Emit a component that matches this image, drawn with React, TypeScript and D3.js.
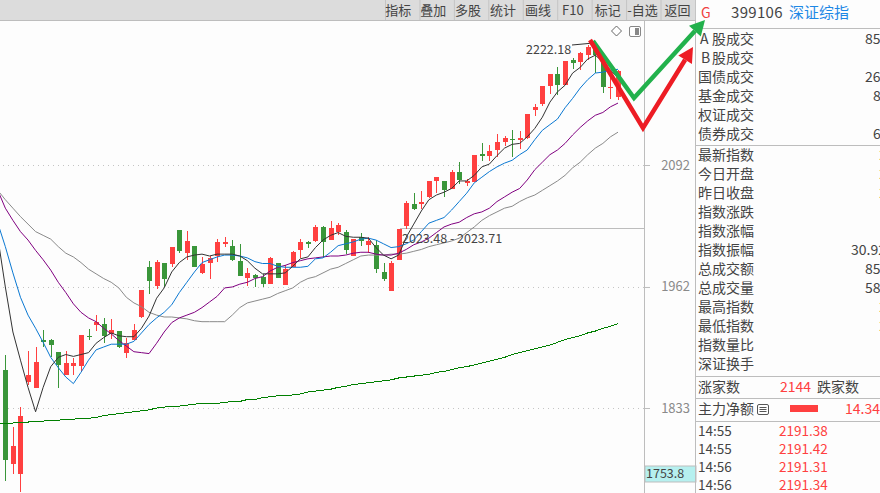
import React from 'react';
import * as d3 from 'd3';

const W = 880;
const H = 493;

// daily candles, one entry per session
const opens = [
  1873, 1773, 1763, 1861, 1854, 1906, 1905, 1893, 1868, 1878,
  1878, 1910, 1921, 1922, 1912, 1915, 1892, 1905, 1930, 1983,
  1963, 1988, 1986, 2023, 1998, 2006, 1977, 1988, 1995, 2008,
  2006, 1990, 1972, 1975, 1973, 1965, 1988, 1964, 1983, 2001,
  2010, 2011, 2026, 2012, 2021, 2021, 1995, 2015, 2007, 2007,
  1978, 1958, 1991, 2027, 2050, 2050, 2058, 2075, 2075, 2066,
  2085, 2073, 2074, 2104, 2102, 2108, 2116, 2120, 2119, 2121,
  2151, 2157, 2176, 2189, 2177, 2204, 2202, 2209, 2219, 2202,
  2174, 2164,
];
const closes = [
  1778, 1793, 1824, 1868, 1882, 1903, 1900, 1879, 1881, 1881,
  1911, 1909, 1925, 1910, 1916, 1898, 1902, 1916, 1959, 1968,
  1989, 1970, 2005, 2000, 2011, 1983, 1986, 1993, 2010, 2010,
  1991, 1974, 1977, 1972, 1965, 1993, 1972, 1981, 1999, 2010,
  2008, 2026, 2010, 2025, 2028, 2001, 2013, 2011, 2011, 1981,
  1970, 1988, 2024, 2052, 2045, 2053, 2075, 2079, 2065, 2085,
  2076, 2075, 2103, 2102, 2107, 2116, 2121, 2119, 2121, 2146,
  2154, 2176, 2189, 2177, 2203, 2201, 2211, 2218, 2209, 2175,
  2175, 2192,
];
const highs = [
  1890, 1813, 1834, 1894, 1898, 1916, 1907, 1893, 1894, 1886,
  1911, 1917, 1932, 1929, 1928, 1915, 1908, 1923, 1959, 1990,
  1991, 1988, 2005, 2023, 2022, 2006, 1994, 1995, 2013, 2015,
  2012, 2008, 1982, 1976, 1976, 1994, 1988, 1985, 2000, 2013,
  2011, 2028, 2027, 2032, 2030, 2023, 2013, 2020, 2015, 2012,
  1988, 1990, 2024, 2054, 2062, 2064, 2075, 2079, 2075, 2087,
  2095, 2077, 2103, 2115, 2113, 2125, 2123, 2129, 2128, 2146,
  2157, 2176, 2189, 2196, 2203, 2206, 2212, 2220, 2222.18, 2207,
  2193, 2193,
];
const lows = [
  1755, 1763, 1743, 1858, 1854, 1898, 1887, 1854, 1868, 1868,
  1871, 1905, 1915, 1902, 1907, 1897, 1886, 1905, 1929, 1955,
  1960, 1962, 1983, 1998, 1991, 1983, 1976, 1970, 1989, 2005,
  1990, 1974, 1963, 1962, 1962, 1965, 1972, 1964, 1983, 1993,
  2004, 2010, 1993, 2012, 2017, 1997, 1995, 2006, 1998, 1977,
  1968, 1958, 1991, 2024, 2044, 2045, 2057, 2062, 2058, 2066,
  2072, 2070, 2074, 2096, 2096, 2100, 2112, 2100, 2109, 2120,
  2144, 2155, 2168, 2167, 2177, 2194, 2193, 2204, 2190, 2169,
  2162, 2161,
];

// moving averages, these start one session before the first candle
const ma5 = [
  2015, 1962, 1914, 1884, 1855, 1829, 1855, 1877, 1887, 1890, 1888, 1890, 1892, 1902, 1908, 1913, 1910,
  1909, 1909, 1918, 1931, 1950, 1961, 1978, 1988, 1994, 1996, 1997, 1995, 1997, 1997, 1997, 1995, 1990,
  1982, 1976, 1976, 1976, 1977, 1984, 1992, 1994, 2004, 2012, 2017, 2020, 2016, 2015, 2015, 2014, 2004,
  1996, 1992, 1996, 2015, 2029, 2043, 2055, 2060, 2063, 2067, 2075, 2075, 2081, 2090, 2093, 2102, 2110,
  2114, 2115, 2122, 2131, 2143, 2159, 2170, 2177, 2190, 2196, 2205, 2209, 2202, 2193, 2185,
];
const ma10 = [
  2030, 2005, 1977, 1951, 1932, 1918, 1903, 1887, 1876, 1866, 1859, 1871, 1884, 1895, 1898, 1901, 1901,
  1901, 1904, 1913, 1922, 1929, 1935, 1943, 1956, 1967, 1978, 1988, 1991, 1994, 1996, 1996, 1995, 1993,
  1989, 1987, 1987, 1984, 1983, 1983, 1983, 1984, 1992, 1993, 1999, 2006, 2008, 2010, 2013, 2014, 2012,
  2008, 2004, 2005, 2008, 2012, 2021, 2030, 2033, 2036, 2044, 2053, 2062, 2073, 2079, 2085, 2090, 2094,
  2097, 2103, 2108, 2119, 2129, 2135, 2141, 2153, 2163, 2174, 2183, 2190, 2191, 2193, 2194,
];
const ma20 = [
  2065, 2046, 2033, 2021, 2012, 2001, 1991, 1980, 1967, 1956, 1944, 1935, 1929, 1925, 1918, 1912, 1905,
  1899, 1893, 1892, 1891, 1902, 1914, 1924, 1929, 1932, 1935, 1940, 1946, 1952, 1961, 1962, 1965, 1967,
  1971, 1973, 1979, 1983, 1985, 1988, 1990, 1992, 1993, 1994, 1995, 1995, 1996, 1998, 1999, 1999, 1997,
  1996, 1996, 1998, 2002, 2007, 2010, 2014, 2020, 2026, 2029, 2031, 2036, 2040, 2042, 2046, 2053, 2058,
  2063, 2067, 2076, 2087, 2095, 2103, 2108, 2115, 2124, 2132, 2139, 2145, 2148, 2154, 2158,
];
const ma60 = [
  2065, 2055, 2046, 2037, 2029, 2021, 2017, 2013, 2005, 1998, 1994, 1988, 1981, 1976, 1971, 1967, 1961,
  1951, 1945, 1941, 1935, 1932, 1930, 1930, 1929, 1928, 1926, 1925, 1925, 1925, 1925, 1932, 1940, 1945,
  1947, 1949, 1951, 1955, 1958, 1961, 1967, 1971, 1973, 1977, 1981, 1983, 1987, 1991, 1995, 1996, 1996,
  1996, 1997, 1997, 1998, 2000, 2002, 2005, 2007, 2009, 2011, 2014, 2020, 2026, 2033, 2038, 2042, 2046,
  2048, 2053, 2057, 2060, 2065, 2070, 2075, 2081, 2089, 2095, 2103, 2110, 2115, 2122, 2127,
];
const ma250 = [
  1816, 1817, 1817, 1818, 1818, 1819, 1819, 1820, 1820, 1821, 1821, 1822, 1822, 1823, 1825, 1826, 1827,
  1828, 1829, 1830, 1831, 1833, 1834, 1835, 1835, 1836, 1837, 1838, 1838, 1838, 1839, 1840, 1840, 1842,
  1842, 1844, 1845, 1846, 1846, 1847, 1848, 1850, 1851, 1852, 1853, 1855, 1856, 1858, 1859, 1860, 1861,
  1862, 1863, 1865, 1866, 1867, 1868, 1869, 1871, 1872, 1874, 1876, 1877, 1879, 1881, 1883, 1885, 1887,
  1890, 1892, 1894, 1896, 1898, 1900, 1903, 1906, 1908, 1910, 1913, 1915, 1918, 1920, 1923,
];

const yTicks = [2092, 1962, 1833];
const buttons = ['指标', '叠加', '多股', '统计', '画线', 'F10', '标记', '-自选', '返回'];
const topRows = [
  ['股成交', '85'], ['股成交', ''], ['国债成交', '26'], ['基金成交', '8'], ['权证成交', ''], ['债券成交', '6'],
];
const midRows = [
  ['最新指数', '2'], ['今日开盘', '2'], ['昨日收盘', '2'], ['指数涨跌', ''], ['指数涨幅', ''],
  ['指数振幅', '30.92'], ['总成交额', '85'], ['总成交量', '58'], ['最高指数', '2'], ['最低指数', '2'],
  ['指数量比', ''], ['深证换手', ''],
];
const ticks = [
  ['14:55', '2191.38'], ['14:55', '2191.42'], ['14:56', '2191.31'], ['14:56', '2191.34'],
];

const FONT = '"Noto Sans CJK SC", "Noto Sans", sans-serif';
const RED = '#ff4040';
const GREEN = '#3a963a';
const TEXT = '#444';
const RULE = '#bdbdbd';

const x = d3.scaleLinear().domain([0, 81]).range([5.33, 618]);
const y = d3.scaleLinear().domain([1833, 2092]).range([408, 165]);

const maLine = d3.line<number>().x((_, i) => x(i - 1)).y(d => y(d));

const maSeries = [
  { values: ma250, color: '#008000', crisp: true },
  { values: ma60, color: '#8a8a8a', crisp: false },
  { values: ma20, color: '#800080', crisp: false },
  { values: ma10, color: '#0a78d2', crisp: false },
  { values: ma5, color: '#333', crisp: false },
];

// hand drawn annotation arrows on top of the chart
const Arrow = ({ pts, color }: { pts: [number, number][]; color: string }) => {
  const [bx, by] = pts[pts.length - 2];
  const [tx, ty] = pts[pts.length - 1];
  const a = Math.atan2(ty - by, tx - bx);
  const len = 15;
  const half = 8;
  const mx = tx - Math.cos(a) * len;
  const my = ty - Math.sin(a) * len;
  const head = [
    [tx, ty],
    [mx - Math.sin(a) * half, my + Math.cos(a) * half],
    [mx + Math.sin(a) * half, my - Math.cos(a) * half],
  ];
  const shaft = [...pts.slice(0, -1), [mx, my]] as [number, number][];
  return (
    <g>
      <path d={d3.line()(shaft) ?? ''} fill="none" stroke={color} strokeWidth={4.5} strokeLinejoin="miter" />
      <polygon points={head.map(p => p.join(',')).join(' ')} fill={color} />
    </g>
  );
};

const Candles = () => (
  <g shapeRendering="crispEdges">
    {opens.map((o, i) => {
      const c = closes[i];
      const color = c >= o ? RED : GREEN;
      const cx = Math.round(x(i));
      const top = Math.round(y(Math.max(o, c)));
      const bottom = Math.round(y(Math.min(o, c)));
      return (
        <g key={i}>
          <line x1={cx + 0.5} x2={cx + 0.5} y1={y(highs[i])} y2={y(lows[i])} stroke={color} />
          <rect x={cx - 2} y={top} width={5} height={Math.max(bottom - top, 1)} fill={color} />
        </g>
      );
    })}
  </g>
);

export default function App() {
  return (
    <svg
      width={W}
      height={H}
      viewBox={`0 0 ${W} ${H}`}
      style={{ position: 'fixed', left: 0, top: 0, background: '#fdfdfd', fontFamily: FONT }}
    >
      <defs>
        <clipPath id="plot">
          <rect x={0} y={21} width={645} height={H - 21} />
        </clipPath>
      </defs>

      {/* toolbar */}
      <rect x={0} y={0} width={696} height={20} fill="#dcdcdc" />
      <line x1={0} x2={696} y1={20.5} y2={20.5} stroke={RULE} />
      {buttons.map((b, i) => (
        <g key={b}>
          <line x1={385.5 + i * 34.44} x2={385.5 + i * 34.44} y1={0} y2={20} stroke="#c4c4c4" />
          <text x={398.3 + i * 34.9} y={14.5} fontSize={13} textAnchor="middle" fill={TEXT}>{b}</text>
        </g>
      ))}
      <line x1={695.5} x2={695.5} y1={0} y2={20} stroke="#c4c4c4" />

      {/* grid and price axis */}
      {yTicks.map(t => (
        <g key={t}>
          <line x1={3} x2={645} y1={y(t) + 0.5} y2={y(t) + 0.5} stroke="#c4c4c4" strokeDasharray="1 4" />
          <line x1={645} x2={650} y1={y(t) + 0.5} y2={y(t) + 0.5} stroke={RULE} />
          <text x={690} y={y(t) + 4.5} fontSize={13} textAnchor="end" fill="#8a8a8a">{t}</text>
        </g>
      ))}
      <line x1={400} x2={645} y1={228.5} y2={228.5} stroke={RULE} />
      <line x1={644.5} x2={644.5} y1={21} y2={H} stroke={RULE} />
      <rect x={645} y={466} width={51} height={16} fill="#b6f0ef" stroke={RULE} strokeWidth={1} />
      <text x={646} y={478} fontSize={12.5} fill={TEXT}>1753.8</text>

      {/* chart */}
      <g clipPath="url(#plot)">
        <Candles />
        {maSeries.map(s => (
          <path
            key={s.color}
            d={maLine(s.values) ?? ''}
            fill="none"
            stroke={s.color}
            strokeWidth={1}
            shapeRendering={s.crisp ? 'crispEdges' : undefined}
          />
        ))}
      </g>
      <text x={526} y={54} fontSize={12.5} fill={TEXT}>2222.18</text>
      <line x1={572} x2={x(78)} y1={45} y2={y(2222.18)} stroke="#333" />
      <text x={402} y={243} fontSize={12.5} fill={TEXT}>2023.48 - 2023.71</text>

      {/* little chart icons */}
      <path d="M616.5 26 L621.5 31 L616.5 36 L611.5 31 Z" fill="#fff" stroke="#666" />
      <rect x={629.5} y={26.5} width={11} height={10} rx={1.5} fill="#fff" stroke="#888" />
      <rect x={635} y={28} width={4} height={7} fill="#888" />

      {/* right side panel */}
      <line x1={695.5} x2={695.5} y1={20} y2={H} stroke={RULE} />
      <line x1={696} x2={W} y1={28.5} y2={28.5} stroke={RULE} />
      <text x={701} y={18} fontSize={14} fill="#f04040">G</text>
      <text x={731} y={18} fontSize={15} fill={TEXT} letterSpacing={0.3}>399106</text>
      <text x={789} y={18} fontSize={15} fill="#1e88e5">深证综指</text>

      {topRows.map((r, i) => (
        <g key={i}>
          {i === 0 && <text x={700} y={43.5} fontSize={14} fill={TEXT}>A</text>}
          {i === 1 && <text x={701} y={62.5} fontSize={14} fill={TEXT}>B</text>}
          <text x={i < 2 ? 712 : 698} y={43.5 + i * 19} fontSize={14} fill={TEXT}>{r[0]}</text>
          <text x={r[1].length > 1 ? 865 : 873} y={43.5 + i * 19} fontSize={14} fill={TEXT}>{r[1]}</text>
        </g>
      ))}
      <line x1={696} x2={W} y1={145.5} y2={145.5} stroke={RULE} />
      {midRows.map((r, i) => (
        <g key={i}>
          <text x={698} y={160 + i * 19} fontSize={14} fill={TEXT}>{r[0]}</text>
          {r[1] === '2' ? (
            <text x={879} y={160 + i * 19} fontSize={14} fill="#e8a33d">{r[1]}</text>
          ) : (
            <text x={r[1].length > 2 ? 851 : 865} y={160 + i * 19} fontSize={14} fill={TEXT}>{r[1]}</text>
          )}
        </g>
      ))}
      <line x1={696} x2={W} y1={376.5} y2={376.5} stroke={RULE} />
      <text x={698} y={392} fontSize={14} fill={TEXT}>涨家数</text>
      <text x={780} y={392} fontSize={14} fill={RED}>2144</text>
      <text x={817} y={392} fontSize={14} fill={TEXT}>跌家数</text>
      <line x1={696} x2={W} y1={398.5} y2={398.5} stroke={RULE} />
      <text x={698} y={414} fontSize={14} fill={TEXT}>主力净额</text>
      <rect x={757.5} y={404.5} width={11} height={10} rx={1.5} fill="none" stroke="#555" />
      <path d="M759.5 407.5 H766.5 M759.5 409.5 H766.5 M759.5 411.5 H766.5" stroke="#555" />
      <rect x={790} y={405} width={28} height={7} fill={RED} />
      <text x={845} y={414} fontSize={14} fill={RED}>14.34</text>
      <line x1={696} x2={W} y1={421.5} y2={421.5} stroke={RULE} />
      {ticks.map((r, i) => (
        <g key={i}>
          <text x={698} y={435.5 + i * 18.3} fontSize={13.5} fill={TEXT}>{r[0]}</text>
          <text x={779} y={435.5 + i * 18.3} fontSize={13.5} fill={RED}>{r[1]}</text>
        </g>
      ))}

      <Arrow pts={[[593, 41], [634, 98], [705, 20]]} color="#22b14c" />
      <Arrow pts={[[590, 40], [643, 128], [693, 47]]} color="#ed1c24" />
    </svg>
  );
}
